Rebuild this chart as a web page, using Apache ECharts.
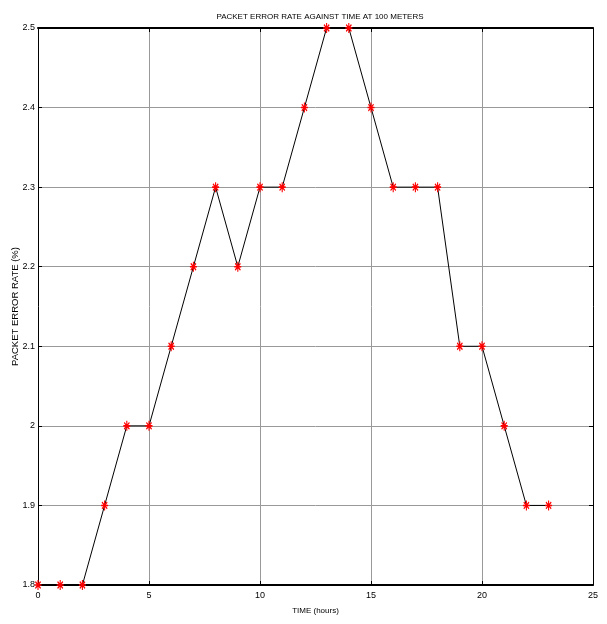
<!DOCTYPE html>
<html><head><meta charset="utf-8">
<script src="https://cdn.jsdelivr.net/npm/echarts@6/dist/echarts.min.js"></script>
<style>html,body{margin:0;padding:0;background:#fff}#c{width:607px;height:624px}</style>
</head><body><div id="c"></div>
<script>
const hours = [0,1,2,3,4,5,6,7,8,9,10,11,12,13,14,15,16,17,18,19,20,21,22,23];
const perValues = [1.8,1.8,1.8,1.9,2.0,2.0,2.1,2.2,2.3,2.2,2.3,2.3,2.4,2.5,2.5,2.4,2.3,2.3,2.3,2.1,2.1,2.0,1.9,1.9];
const titleText = 'PACKET ERROR RATE AGAINST TIME AT 100 METERS';
const xName = 'TIME (hours)';
const yName = 'PACKET ERROR RATE (%)';

const narrow = "'Liberation Sans Narrow', 'Arial Narrow', 'Liberation Sans', sans-serif";
const chart = echarts.init(document.getElementById('c'));
const star = 'path://M0,-6L0,6M-4,0L4,0M-3,-4L3,4M-3,4L3,-4';
const tickStyle = {show:true, inside:true, length:4, lineStyle:{color:'#000', width:1}};
chart.setOption({
  animation:false,
  backgroundColor:'#fff',
  title:{text:titleText, left:315, top:8, textAlign:'center',
    textStyle:{fontFamily:narrow, fontSize:8, fontWeight:'normal', color:'#000'}},
  grid:{left:38, right:14, top:28, bottom:39, show:false, containLabel:false, outerBoundsMode:'none'},
  xAxis:[{
    type:'value', min:0, max:25, interval:5, position:'bottom',
    name:xName, nameLocation:'middle', nameGap:22,
    nameTextStyle:{fontFamily:narrow, fontSize:8, color:'#000'},
    axisLine:{show:true, onZero:false, lineStyle:{color:'#000', width:2}},
    axisTick:tickStyle,
    axisLabel:{fontFamily:narrow, fontSize:9, color:'#000', margin:6},
    splitLine:{show:true, lineStyle:{color:'#999', width:1}}
  },{
    type:'value', min:0, max:25, interval:5, position:'top',
    axisLine:{show:true, onZero:false, lineStyle:{color:'#000', width:2}},
    axisTick:tickStyle, axisLabel:{show:false}, splitLine:{show:false}
  }],
  yAxis:[{
    type:'value', min:1.8, max:2.5, interval:0.1, position:'left',
    name:yName, nameLocation:'middle', nameGap:18, nameMoveOverlap:false,
    nameTextStyle:{fontFamily:"'Liberation Sans', Arial, sans-serif", fontSize:9.5, color:'#000'},
    axisLine:{show:true, onZero:false, lineStyle:{color:'#000', width:1}},
    axisTick:tickStyle,
    axisLabel:{fontFamily:narrow, fontSize:9, color:'#000', margin:3,
      formatter:v=>String(Math.round(v*10)/10)},
    splitLine:{show:true, lineStyle:{color:'#999', width:1}}
  },{
    type:'value', min:1.8, max:2.5, interval:0.1, position:'right',
    axisLine:{show:true, onZero:false, lineStyle:{color:'#000', width:1}},
    axisTick:tickStyle, axisLabel:{show:false}, splitLine:{show:false}
  }],
  series:[{
    type:'line',
    data:hours.map((h,i)=>[h,perValues[i]]),
    lineStyle:{color:'#000', width:1},
    symbol:star, symbolSize:[7,10],
    itemStyle:{color:'rgba(0,0,0,0)', borderColor:'#f00', borderWidth:1.3},
    showSymbol:true, z:5, clip:false
  }]
});
</script></body></html>
